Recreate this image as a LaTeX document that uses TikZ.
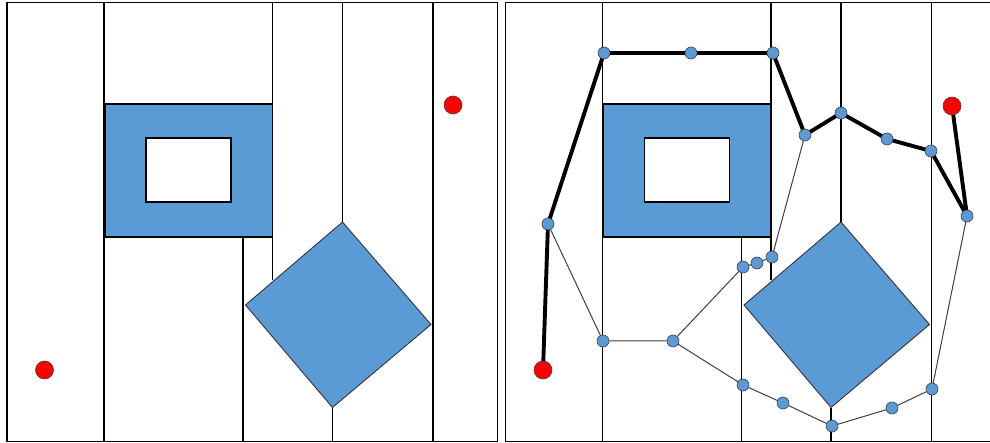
\documentclass[tikz,border=0pt]{standalone}
\definecolor{shapeblue}{HTML}{5B9BD5}
\definecolor{dotred}{HTML}{FF0000}
\pgfdeclarelayer{bg}
\pgfdeclarelayer{mid}
\pgfsetlayers{bg,mid,main}
\tikzset{
  grid line/.style={line width=1.2pt, black},
  frame/.style={line width=1.2pt, black},
  obstacle/.style={fill=shapeblue, draw=black!80, line width=0.9pt},
  rectobs/.style={fill=shapeblue, draw=black, line width=1.6pt, even odd rule},
  bluedot/.style={circle, fill=shapeblue, draw=black!75, line width=0.6pt, minimum size=12pt, inner sep=0pt},
  reddot/.style={circle, fill=dotred, draw=black!75, line width=0.6pt, minimum size=18pt, inner sep=0pt},
  thickpath/.style={line width=3.9pt, black, line join=round},
  thinpath/.style={line width=1pt, black!75},
}
\begin{document}
\begin{tikzpicture}[x=1pt, y=-1pt]
\useasboundingbox (0,0) rectangle (990,443);
\begin{pgfonlayer}{bg}
\fill[white] (0,0) rectangle (990,443);
\foreach \dx in {0,498.5}{
  \begin{scope}[xshift=\dx pt]
    \draw[grid line] (104,2) -- (104,442);
    \draw[grid line] (272.5,2) -- (272.5,104);
    \draw[grid line] (272.5,238) -- (272.5,280);
    \draw[grid line] (243,238) -- (243,442);
    \draw[grid line] (342.5,2) -- (342.5,222);
    \draw[grid line] (332.5,408) -- (332.5,442);
    \draw[grid line] (433,2) -- (433,442);
    \path[rectobs] (105,104) rectangle (272.5,237) (146,138) rectangle (231,202);
    \path[obstacle] (342.5,222) -- (431,324.5) -- (332.5,407.5) -- (245.5,305) -- cycle;
  \end{scope}
}
\draw[frame] (7,2.5) rectangle (497.5,441.5);
\draw[frame] (505.5,2.5) -- (995,2.5) (505.5,2.5) -- (505.5,441.5) -- (995,441.5);
\end{pgfonlayer}
% left panel points
\node[reddot] (la) at (44.5,370) {};
\node[reddot] (lb) at (453,105) {};
% right panel points
\node[reddot] (A) at (543,370) {};
\node[reddot] (B) at (952,106) {};
\node[bluedot] (P1) at (548,224) {};
\node[bluedot] (P2) at (604,53) {};
\node[bluedot] (P3) at (691,53) {};
\node[bluedot] (P4) at (773,53) {};
\node[bluedot] (P5) at (805,135) {};
\node[bluedot] (P6) at (841,113) {};
\node[bluedot] (P7) at (887,139) {};
\node[bluedot] (P8) at (931,151) {};
\node[bluedot] (P9) at (967,216) {};
\node[bluedot] (Q1) at (603,341) {};
\node[bluedot] (Q2) at (673,341) {};
\node[bluedot] (Q3) at (743,267) {};
\node[bluedot] (Q4) at (757,263) {};
\node[bluedot] (Q5) at (772,257) {};
\node[bluedot] (R1) at (743,385) {};
\node[bluedot] (R2) at (783,403) {};
\node[bluedot] (R3) at (832,426) {};
\node[bluedot] (R4) at (892,408) {};
\node[bluedot] (R5) at (932,389) {};
\begin{pgfonlayer}{mid}
\draw[thinpath] (P1.center) -- (Q1.center) -- (Q2.center) -- (Q3.center) -- (Q4.center) -- (Q5.center) -- (P5.center);
\draw[thinpath] (Q2.center) -- (R1.center) -- (R2.center) -- (R3.center) -- (R4.center) -- (R5.center) -- (P9.center);
\draw[thickpath] (A.center) -- (P1.center) -- (P2.center) -- (P3.center) -- (P4.center) -- (P5.center) -- (P6.center) -- (P7.center) -- (P8.center) -- (P9.center) -- (B.center);
\end{pgfonlayer}
\end{tikzpicture}
\end{document}
